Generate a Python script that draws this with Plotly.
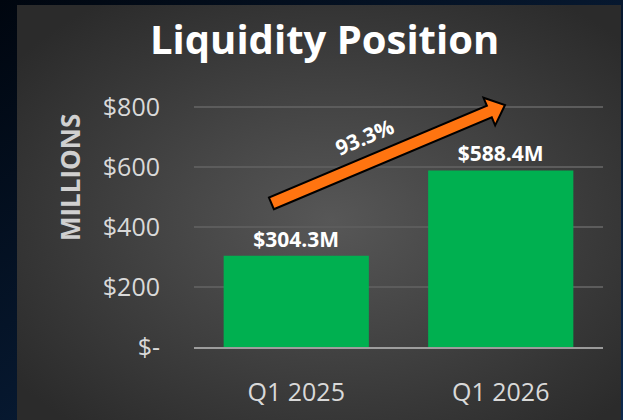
import base64
import math
import plotly.graph_objects as go

# ---------------- data ----------------
categories = ["Q1 2025", "Q1 2026"]
liquidity = [304.3, 588.4]
value_labels = ["$304.3M", "$588.4M"]
growth_label = "93.3%"
y_tick_vals = [0, 200, 400, 600, 800]
y_tick_text = ["$-", "$200", "$400", "$600", "$800"]

# ---------------- layout geometry ----------------
W, H = 623, 420
ML, MR, MB = 194, 20, 73
Y_MAX = 900
PW = W - ML - MR
PH_PER_UNIT = 0.3
PH = Y_MAX * PH_PER_UNIT
MT = H - MB - PH


def px_to_paper(px, py):
    return (px - ML) / PW, (H - MB - py) / PH


# background: navy frame + radial-gradient gray panel
svg = f'''<svg xmlns="http://www.w3.org/2000/svg" width="{W}" height="{H}" viewBox="0 0 {W} {H}" preserveAspectRatio="none">
<defs>
<linearGradient id="n" x1="0" y1="0" x2="1" y2="1">
<stop offset="0" stop-color="#00060f"/><stop offset="1" stop-color="#0d2a4f"/></linearGradient>
<radialGradient id="g" cx="0.52" cy="0.52" r="0.65">
<stop offset="0" stop-color="#575757"/><stop offset="1" stop-color="#2b2b2b"/></radialGradient>
</defs>
<rect width="{W}" height="{H}" fill="url(#n)"/>
<rect x="17" y="5" width="604" height="415" fill="url(#g)"/>
</svg>'''
bg_src = "data:image/svg+xml;base64," + base64.b64encode(svg.encode()).decode()

fig = go.Figure()
fig.add_trace(go.Bar(
    x=categories, y=liquidity,
    marker=dict(color="#00b050", line=dict(width=0)),
    text=value_labels, textposition="outside", cliponaxis=False,
    textfont=dict(family="Open Sans", size=21, color="white", weight="bold"),
    hoverinfo="skip",
))

# growth arrow (pixel geometry -> paper coords)
tail = (271.4, 203.4)
tip = (505.0, 105.0)
dx, dy = tip[0] - tail[0], tip[1] - tail[1]
ln = math.hypot(dx, dy)
ux, uy = dx / ln, dy / ln
nx, ny = -uy, ux
w_shaft, w_head, l_head = 6.3, 15.0, 17.0
bx, by = tip[0] - ux * l_head, tip[1] - uy * l_head
pts_px = [
    (tail[0] + nx * w_shaft, tail[1] + ny * w_shaft),
    (bx + nx * w_shaft, by + ny * w_shaft),
    (bx + nx * w_head, by + ny * w_head),
    tip,
    (bx - nx * w_head, by - ny * w_head),
    (bx - nx * w_shaft, by - ny * w_shaft),
    (tail[0] - nx * w_shaft, tail[1] - ny * w_shaft),
]
pts = [px_to_paper(*p) for p in pts_px]
path = "M " + " L ".join(f"{x:.5f},{y:.5f}" for x, y in pts) + " Z"
fig.add_shape(type="path", path=path, xref="paper", yref="paper",
              fillcolor="#ff7410", line=dict(color="black", width=2), layer="above")

angle = math.degrees(math.atan2(dy, dx))
tx, ty = px_to_paper(364, 137)
fig.add_annotation(text=growth_label, x=tx, y=ty, xref="paper", yref="paper",
                   showarrow=False, textangle=angle, xanchor="center", yanchor="middle",
                   font=dict(family="Open Sans", size=21, color="white", weight="bold"))

# title
tx, ty = px_to_paper(324, 38)
fig.add_annotation(text="Liquidity Position", x=tx, y=ty, xref="paper", yref="paper",
                   showarrow=False, xanchor="center", yanchor="middle",
                   font=dict(family="Open Sans", size=40, color="white", weight="bold"))

# y axis title
tx, ty = px_to_paper(70, 178)
fig.add_annotation(text="MILLIONS", x=tx, y=ty, xref="paper", yref="paper",
                   showarrow=False, textangle=-90, xanchor="center", yanchor="middle",
                   font=dict(family="Open Sans", size=26, color="#d0d0d0", weight="bold"))

fig.update_layout(
    width=W, height=H,
    margin=dict(l=ML, r=MR, t=MT, b=MB, pad=0),
    paper_bgcolor="#071a33", plot_bgcolor="rgba(0,0,0,0)",
    bargap=0.29, showlegend=False,
    images=[dict(source=bg_src, xref="paper", yref="paper",
                 x=-ML / PW, y=1 + MT / PH, sizex=W / PW, sizey=H / PH,
                 sizing="stretch", xanchor="left", yanchor="top", layer="below")],
)
fig.update_xaxes(
    showgrid=False, showline=True, linecolor="rgba(190,190,190,0.75)", linewidth=2,
    layer="above traces", ticks="", ticklabelstandoff=22,
    tickfont=dict(family="Open Sans", size=25, color="#d9d9d9"),
)
fig.update_yaxes(
    range=[0, Y_MAX], tickvals=y_tick_vals, ticktext=y_tick_text,
    showgrid=True, gridcolor="#5c5c5c", gridwidth=1.5, zeroline=False,
    showline=False, ticks="", ticklabelstandoff=33,
    tickfont=dict(family="Open Sans", size=25, color="#d9d9d9"),
)

fig.write_html("out.html", config={"displayModeBar": False})

# remove the default page margin so the figure sits at the window origin
with open("out.html", encoding="utf-8") as f:
    html = f.read()
html = html.replace("<body>", '<body style="margin:0;overflow:hidden">', 1)
with open("out.html", "w", encoding="utf-8") as f:
    f.write(html)
